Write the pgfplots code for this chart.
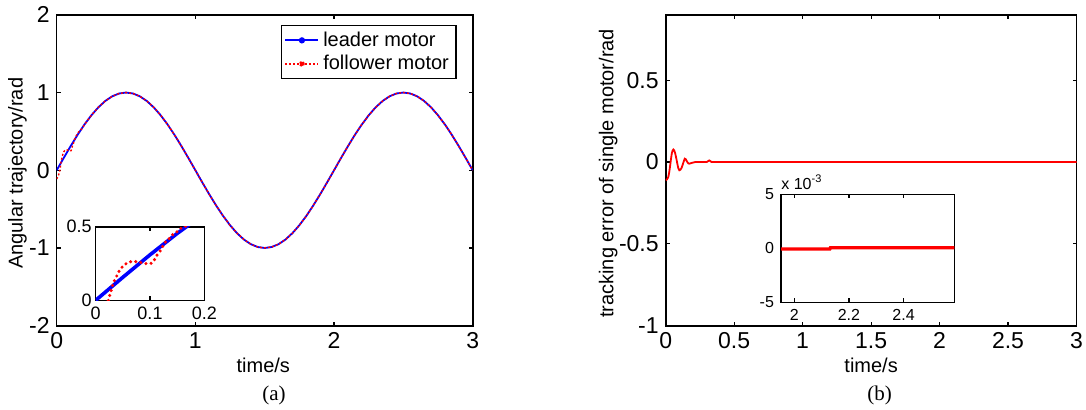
\documentclass[border=0pt]{standalone}
\usepackage{pgfplots}
\pgfplotsset{compat=1.18}
\usepackage{pgfplotstable}
\usepackage{fontspec}
\setmainfont{Liberation Sans}
\newfontfamily\timesfont{Liberation Serif}

\pgfplotstableread{
t y
0 0
0.05 0.1564
0.1 0.3090
0.15 0.4540
0.2 0.5878
0.25 0.7071
0.3 0.8090
0.35 0.8910
0.4 0.9511
0.45 0.9877
0.5 1.0000
0.55 0.9877
0.6 0.9511
0.65 0.8910
0.7 0.8090
0.75 0.7071
0.8 0.5878
0.85 0.4540
0.9 0.3090
0.95 0.1564
1.0 0
1.05 -0.1564
1.1 -0.3090
1.15 -0.4540
1.2 -0.5878
1.25 -0.7071
1.3 -0.8090
1.35 -0.8910
1.4 -0.9511
1.45 -0.9877
1.5 -1.0000
1.55 -0.9877
1.6 -0.9511
1.65 -0.8910
1.7 -0.8090
1.75 -0.7071
1.8 -0.5878
1.85 -0.4540
1.9 -0.3090
1.95 -0.1564
2.0 0
2.05 0.1564
2.1 0.3090
2.15 0.4540
2.2 0.5878
2.25 0.7071
2.3 0.8090
2.35 0.8910
2.4 0.9511
2.45 0.9877
2.5 1.0000
2.55 0.9877
2.6 0.9511
2.65 0.8910
2.7 0.8090
2.75 0.7071
2.8 0.5878
2.85 0.4540
2.9 0.3090
2.95 0.1564
3.0 0
}\leader

\pgfplotstableread{
t y
0 -0.112
0.012 -0.07
0.0233 0.0
0.0325 0.121
0.0375 0.156
0.0436 0.202
0.051 0.236
0.0602 0.259
0.0694 0.266
0.08 0.259
0.0879 0.252
0.0953 0.248
0.1034 0.252
0.108 0.275
0.1137 0.312
0.1205 0.344
0.1266 0.39
0.134 0.413
0.142 0.447
0.1495 0.465
0.157 0.489
0.163 0.5
0.172 0.512
0.19 0.557
0.2 0.5878
0.25 0.7071
0.3 0.8090
0.35 0.8910
0.4 0.9511
0.45 0.9877
0.5 1.0000
0.55 0.9877
0.6 0.9511
0.65 0.8910
0.7 0.8090
0.75 0.7071
0.8 0.5878
0.85 0.4540
0.9 0.3090
0.95 0.1564
1.0 0
1.05 -0.1564
1.1 -0.3090
1.15 -0.4540
1.2 -0.5878
1.25 -0.7071
1.3 -0.8090
1.35 -0.8910
1.4 -0.9511
1.45 -0.9877
1.5 -1.0000
1.55 -0.9877
1.6 -0.9511
1.65 -0.8910
1.7 -0.8090
1.75 -0.7071
1.8 -0.5878
1.85 -0.4540
1.9 -0.3090
1.95 -0.1564
2.0 0
2.05 0.1564
2.1 0.3090
2.15 0.4540
2.2 0.5878
2.25 0.7071
2.3 0.8090
2.35 0.8910
2.4 0.9511
2.45 0.9877
2.5 1.0000
2.55 0.9877
2.6 0.9511
2.65 0.8910
2.7 0.8090
2.75 0.7071
2.8 0.5878
2.85 0.4540
2.9 0.3090
2.95 0.1564
3.0 0
}\follower

\pgfplotstableread{
t e
0 -0.112
0.01 -0.105
0.019 -0.091
0.025 -0.065
0.031 -0.03
0.038 0.015
0.044 0.051
0.05 0.07
0.056 0.077
0.062 0.072
0.07 0.051
0.078 0.02
0.085 -0.01
0.092 -0.038
0.099 -0.05
0.107 -0.047
0.117 -0.034
0.128 -0.005
0.139 0.021
0.146 0.018
0.158 0
0.165 -0.008
0.172 -0.01
0.19 -0.005
0.214 0
0.30 0
0.31 0.006
0.318 0.01
0.326 0.006
0.335 0
3.0 0
}\error

\pgfplotstableread{
t e
1.951 -0.07
2.13 -0.07
2.132 0.05
2.586 0.05
}\errorzoom

\pgfplotsset{
  base/.style={
    scale only axis,
    enlargelimits=false,
    axis line style={line width=0.8pt},
    tick align=inside,
    tick pos=both,
    major tick length=2pt,
    tick style={line width=0.6pt, black},
    /pgf/number format/assume math mode=true,
    axis background/.style={fill=white},
    label style={font=\fontsize{10}{12}\selectfont},
  },
}

\begin{document}
\begin{tikzpicture}
\path[use as bounding box] (0,0) rectangle (543pt,204.5pt);

% ---------- panel (a) ----------
\begin{axis}[base,
  at={(28.35pt,41.65pt)}, anchor=south west,
  width=208pt, height=155.45pt,
  xmin=0, xmax=3, ymin=-2, ymax=2,
  xtick={0,1,2,3}, ytick={-2,-1,0,1,2},
  tick label style={font=\fontsize{11.5}{13}\selectfont},
  xlabel={time/s}, ylabel={Angular trajectory/rad},
  xlabel style={at={(axis description cs:0.4966,-0.1287)}, anchor=center},
  ylabel style={at={(axis description cs:-0.0942,0.49)}, anchor=center},
  legend style={at={(axis description cs:1,1)}, xshift=-8pt, yshift=-5pt,
    anchor=north east, draw=black, line width=0.8pt,
    font=\fontsize{10}{12}\selectfont, inner xsep=1.5pt, inner ysep=1pt,
    row sep=-1pt, nodes={inner sep=2pt}},
  legend cell align=left,
  legend image code/.code={
    \draw[#1] (0pt,0pt) -- (16.5pt,0pt);
    \fill[#1] (8.25pt,0pt) circle (1.1pt);},
]
\addplot[blue, line width=0.9pt] table[x=t,y=y] {\leader};
\addlegendentry{leader motor}
\addplot[red, line width=0.7pt, dash pattern=on 1pt off 1pt] table[x=t,y=y] {\follower};
\addlegendentry{follower motor}
\end{axis}

\begin{axis}[base,
  at={(47.85pt,54.35pt)}, anchor=south west,
  width=54.3pt, height=36.8pt,
  xmin=0, xmax=0.2, ymin=0, ymax=0.5,
  xtick={0,0.1,0.2}, ytick={0,0.5},
  tick label style={font=\fontsize{9}{11}\selectfont},
  yticklabel style={xshift=1.5pt},
]
\addplot[blue, line width=1.8pt] table[x=t,y=y] {\leader};
\addplot[red, line width=1.7pt, line cap=round, dash pattern=on 0pt off 2.6pt] table[x=t,y=y] {\follower};
\end{axis}

% ---------- panel (b) ----------
\begin{axis}[base,
  at={(332.85pt,41.65pt)}, anchor=south west,
  width=205.4pt, height=155.45pt,
  xmin=0, xmax=3, ymin=-1, ymax=0.9,
  xtick={0,0.5,1,1.5,2,2.5,3}, ytick={-1,-0.5,0,0.5},
  tick label style={font=\fontsize{11.5}{13}\selectfont},
  xlabel={time/s}, ylabel={tracking error of single motor/rad},
  xlabel style={at={(axis description cs:0.5,-0.1287)}, anchor=center},
  ylabel style={at={(axis description cs:-0.1397,0.49)}, anchor=center},
]
\addplot[red, line width=0.9pt] table[x=t,y=e] {\error};
\end{axis}

\begin{axis}[base,
  at={(390.5pt,53.35pt)}, anchor=south west,
  width=86.65pt, height=54pt,
  xmin=1.951, xmax=2.586, ymin=-5, ymax=5,
  xtick={2,2.2,2.4}, ytick={-5,0,5},
  tick label style={font=\fontsize{8}{10}\selectfont},
  clip mode=individual,
]
\addplot[red, line width=1.6pt] table[x=t,y=e] {\errorzoom};
\end{axis}
\node[anchor=base west, inner sep=0pt, font=\fontsize{8}{10}\selectfont] at (390.5pt,109.85pt) {x 10\raisebox{3.2pt}{\fontsize{5.5}{6}\selectfont -3}};

\node[font=\timesfont\fontsize{10.5}{12}\selectfont] at (137pt,7pt) {(a)};
\node[font=\timesfont\fontsize{10.5}{12}\selectfont] at (439.75pt,7pt) {(b)};
\end{tikzpicture}
\end{document}
